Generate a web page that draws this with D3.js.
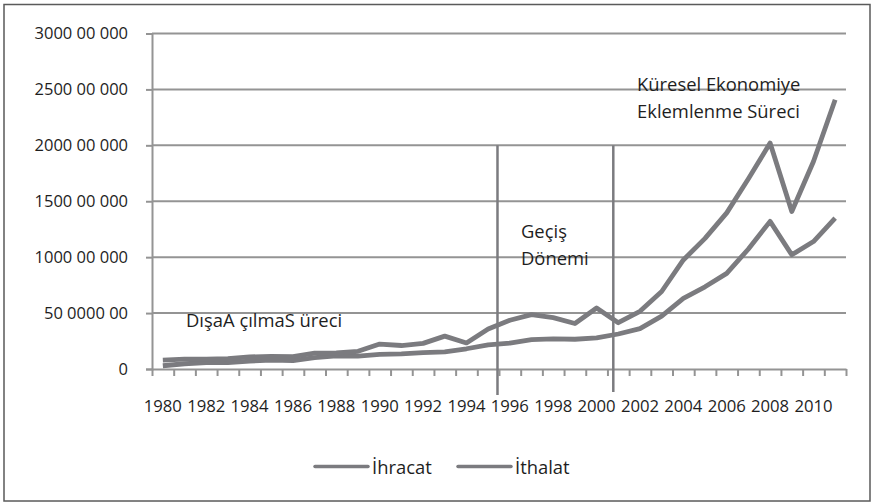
<!DOCTYPE html>
<html>
<head>
<meta charset="utf-8">
<script src="https://cdn.jsdelivr.net/npm/d3@7"></script>
<style>
  body { margin: 0; background: #fff; }
  svg text { font-family: "Open Sans", "Noto Sans", sans-serif; fill: #1e1e1e; }
</style>
</head>
<body>
<svg id="chart" width="874" height="504"></svg>
<script>
// years on the category axis
var years = d3.range(1980, 2012);
// values in units of 100 000 000
var ihracat = [29, 47, 57, 57, 71, 80, 75, 102, 117, 116, 130, 136, 147, 153, 181, 216,
               232, 263, 270, 266, 278, 313, 361, 473, 632, 735, 855, 1073, 1320, 1021, 1140, 1350];
var ithalat = [79, 89, 88, 92, 108, 113, 111, 142, 143, 158, 223, 210, 229, 294, 233, 357,
               436, 486, 459, 407, 545, 414, 516, 693, 975, 1168, 1396, 1701, 2020, 1409, 1855, 2408];
var yTicks = [0, 500, 1000, 1500, 2000, 2500, 3000];
var yTickLabels = ["0", "50 0000 00", "1000 00 000", "1500 00 000", "2000 00 000", "2500 00 000", "3000 00 000"];
var xLabelYears = years.filter(function(d) { return d % 2 === 0; });
// period dividers (fractional year positions on the axis)
var dividers = [1995.43, 2000.77];
var seriesNames = ["İhracat", "İthalat"];

(function () {
  'use strict';

  var svg = d3.select("#chart");
  var plot = { left: 152, right: 846, top: 33.5, bottom: 369 };
  var lineColor = "#7b7b7f", gridColor = "#949494";

  var x = d3.scaleLinear().domain([1979.5, 2011.5]).range([plot.left, plot.right]);
  var y = d3.scaleLinear().domain([0, 3000]).range([plot.bottom, plot.top]);

  // outer frame
  svg.append("rect")
    .attr("x", 4).attr("y", 4.5).attr("width", 866).attr("height", 496.5)
    .attr("fill", "none").attr("stroke", "#5a5a5a").attr("stroke-width", 1.5);

  // horizontal gridlines
  svg.append("g").selectAll("line")
    .data(yTicks.slice(1))
    .enter().append("line")
    .attr("x1", plot.left).attr("x2", plot.right)
    .attr("y1", function(d) { return y(d); })
    .attr("y2", function(d) { return y(d); })
    .attr("stroke", gridColor).attr("stroke-width", 2);

  // y axis
  var yAxis = d3.axisLeft(y)
    .tickValues(yTicks)
    .tickSize(6)
    .tickPadding(18)
    .tickFormat(function(d, i) { return yTickLabels[i]; });
  var gy = svg.append("g").attr("transform", "translate(" + plot.left + ",0)").call(yAxis);
  gy.select(".domain").attr("stroke", gridColor).attr("stroke-width", 2);
  gy.selectAll(".tick line").attr("stroke", gridColor).attr("stroke-width", 2);
  gy.selectAll(".tick text").style("font-size", "16.5px").attr("fill", "#1e1e1e");

  // x axis: ticks between categories
  var xAxis = d3.axisBottom(x)
    .tickValues(d3.range(1979.5, 2012, 1))
    .tickSize(7)
    .tickSizeOuter(0)
    .tickFormat("");
  var gx = svg.append("g").attr("transform", "translate(0," + plot.bottom + ")").call(xAxis);
  gx.select(".domain").attr("stroke", gridColor).attr("stroke-width", 2);
  gx.selectAll(".tick line").attr("stroke", gridColor).attr("stroke-width", 2);

  svg.append("g").selectAll("text")
    .data(xLabelYears)
    .enter().append("text")
    .attr("x", function(d) { return x(d); })
    .attr("y", 405)
    .attr("text-anchor", "middle")
    .attr("dominant-baseline", "central")
    .style("font-size", "16.7px")
    .text(function(d) { return d; });

  // period dividers
  svg.append("g").selectAll("line")
    .data(dividers)
    .enter().append("line")
    .attr("x1", function(d) { return x(d); })
    .attr("x2", function(d) { return x(d); })
    .attr("y1", y(2000))
    .attr("y2", function(d, i) { return i === 0 ? 395 : 392; })
    .attr("stroke", lineColor).attr("stroke-width", 2.5);

  // series lines
  var line = d3.line()
    .x(function(d, i) { return x(years[i]); })
    .y(function(d) { return y(d); });

  svg.append("g").selectAll("path")
    .data([ihracat, ithalat])
    .enter().append("path")
    .attr("d", line)
    .attr("fill", "none")
    .attr("stroke", lineColor)
    .attr("stroke-width", 4.8)
    .attr("stroke-linejoin", "round");

  // period annotations
  var notes = [
    { x: 186, y: 319, lines: ["DışaA çılmaS üreci"] },
    { x: 521, y: 230, lines: ["Geçiş", "Dönemi"] },
    { x: 637, y: 83, lines: ["Küresel Ekonomiye", "Eklemlenme Süreci"] }
  ];
  notes.forEach(function(n) {
    n.lines.forEach(function(t, i) {
      svg.append("text")
        .attr("x", n.x).attr("y", n.y + i * 27)
        .attr("dominant-baseline", "central")
        .style("font-size", "18.4px")
        .text(t);
    });
  });

  // legend
  var legend = svg.append("g");
  var legendX = [315, 458];
  seriesNames.forEach(function(name, i) {
    legend.append("line")
      .attr("x1", legendX[i]).attr("x2", legendX[i] + 53)
      .attr("y1", 466.5).attr("y2", 466.5)
      .attr("stroke", lineColor).attr("stroke-width", 3.5)
      .attr("stroke-linecap", "round");
    legend.append("text")
      .attr("x", legendX[i] + 57).attr("y", 466)
      .attr("dominant-baseline", "central")
      .style("font-size", "18.4px")
      .text(name);
  });
}());
</script>
</body>
</html>
